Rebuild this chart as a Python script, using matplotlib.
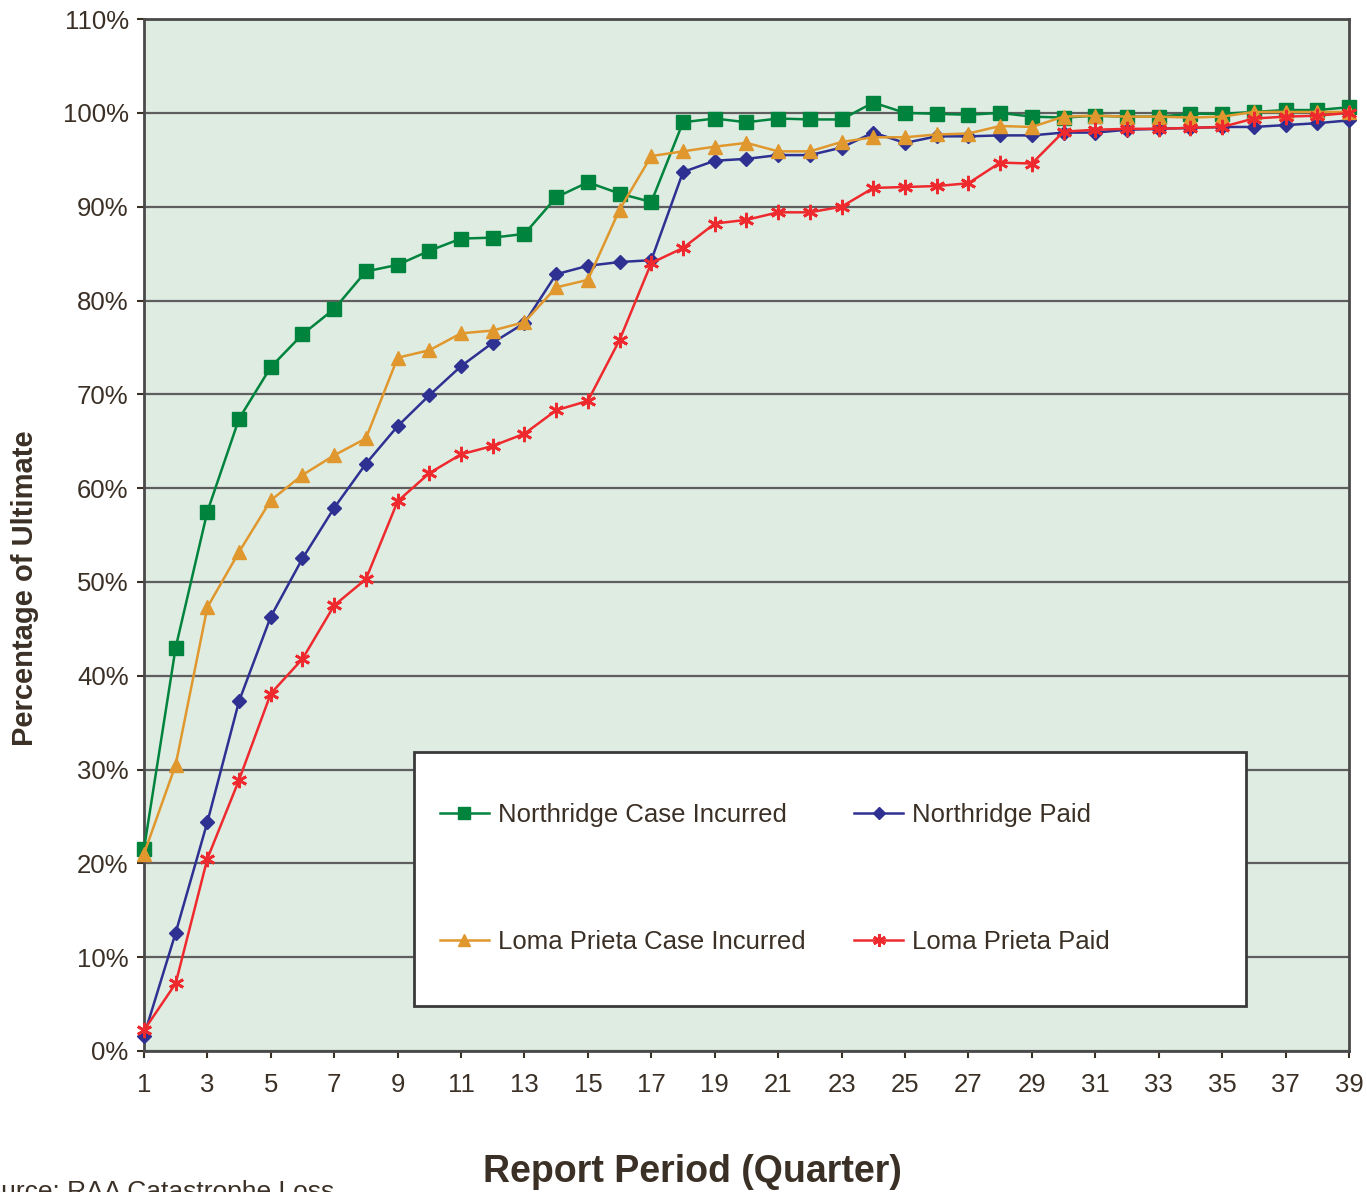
import matplotlib
matplotlib.use("Agg")
import matplotlib.pyplot as plt
from matplotlib.patches import Rectangle

plt.rcParams['font.family'] = ['Liberation Sans', 'DejaVu Sans']

quarters = list(range(1, 40))

northridge_incurred = [21.5, 43.0, 57.5, 67.4, 72.9, 76.4, 79.1, 83.1, 83.8, 85.3,
                       86.6, 86.7, 87.1, 91.0, 92.6, 91.4, 90.5, 99.0, 99.4, 99.0,
                       99.4, 99.3, 99.3, 101.1, 100.0, 99.9, 99.8, 100.0, 99.6, 99.5,
                       99.7, 99.6, 99.6, 99.9, 99.9, 100.1, 100.3, 100.3, 100.6]
northridge_paid = [1.6, 12.6, 24.4, 37.3, 46.3, 52.5, 57.9, 62.6, 66.6, 69.9,
                   73.0, 75.5, 77.6, 82.8, 83.7, 84.1, 84.3, 93.7, 94.9, 95.1,
                   95.5, 95.5, 96.3, 97.9, 96.8, 97.5, 97.5, 97.6, 97.6, 97.9,
                   97.9, 98.2, 98.3, 98.4, 98.5, 98.5, 98.7, 98.9, 99.2]
loma_incurred = [21.0, 30.5, 47.3, 53.2, 58.7, 61.4, 63.5, 65.3, 73.9, 74.7,
                 76.5, 76.8, 77.7, 81.4, 82.2, 89.7, 95.4, 95.9, 96.4, 96.8,
                 95.9, 95.9, 96.9, 97.4, 97.4, 97.7, 97.8, 98.6, 98.5, 99.6,
                 99.7, 99.6, 99.6, 99.5, 99.6, 100.1, 100.1, 100.1, 100.1]
loma_paid = [2.2, 7.2, 20.5, 28.9, 38.1, 41.8, 47.5, 50.3, 58.6, 61.6,
             63.6, 64.5, 65.8, 68.3, 69.3, 75.8, 84.0, 85.6, 88.2, 88.6,
             89.4, 89.4, 90.0, 92.0, 92.1, 92.2, 92.5, 94.7, 94.6, 98.0,
             98.2, 98.3, 98.3, 98.4, 98.5, 99.4, 99.6, 99.7, 100.0]

text_col = '#3b3026'
fig = plt.figure(figsize=(13.67, 11.92), dpi=100)
ax = fig.add_axes([0.1053, 0.1183, 0.8815, 0.8657])
ax.set_facecolor('#dfece2')

l1, = ax.plot(quarters, northridge_incurred, color='#00843d', lw=1.8, marker='s', ms=10, clip_on=False, zorder=3)
l2, = ax.plot(quarters, northridge_paid, color='#2e3192', lw=1.8, marker='D', ms=7.5, clip_on=False, zorder=3)
l3, = ax.plot(quarters, loma_incurred, color='#e0982e', lw=1.8, marker='^', ms=10, clip_on=False, zorder=3)
l4, = ax.plot(quarters, loma_paid, color='#ee2a2e', lw=1.8, marker=(6, 2, 0), ms=11, mew=2, clip_on=False, zorder=3)

ax.set_xlim(1, 39)
ax.set_ylim(0, 110)
ax.set_xticks(range(1, 40, 2))
ax.set_yticks(range(0, 111, 10))
ax.set_yticklabels([f"{v}%" for v in range(0, 111, 10)])
ax.yaxis.grid(True, color='#5e5e5e', lw=1.6)
ax.set_axisbelow(True)
for s in ax.spines.values():
    s.set_color('#4a4a4a')
    s.set_linewidth(2)
ax.tick_params(axis='both', labelsize=18.5, colors=text_col, length=5, width=1.5, pad=6)
ax.tick_params(axis='x', pad=11)
for t in ax.get_xticklines() + ax.get_yticklines():
    t.set_color('#4a4a4a')

# legend box
box = Rectangle((0.224, 0.0436), 0.6905, 0.2461, transform=ax.transAxes,
                facecolor='white', edgecolor='#3a3a3a', lw=2, zorder=5)
ax.add_patch(box)
leg = ax.legend([l1, l3, l2, l4],
                ['Northridge Case Incurred', 'Loma Prieta Case Incurred',
                 'Northridge Paid', 'Loma Prieta Paid'],
                ncol=2, loc='center left', bbox_to_anchor=(0.2456, 0.1672),
                frameon=False, fontsize=18.5, labelspacing=4.0, handlelength=1.9,
                handletextpad=0.35, columnspacing=1.9, borderpad=0, borderaxespad=0,
                markerscale=0.85)
leg.set_zorder(6)
for t in leg.get_texts():
    t.set_color(text_col)

fig.text(25 / 1367, 1 - 588 / 1192, 'Percentage of Ultimate', rotation=90,
         ha='center', va='center', fontsize=21, fontweight='bold', color=text_col)
fig.text(692 / 1367, 1 - 1172 / 1192, 'Report Period (Quarter)',
         ha='center', va='center', fontsize=27, fontweight='bold', color=text_col)
fig.text(-31 / 1367, 1 - 1180 / 1192, 'Source: RAA Catastrophe Loss',
         ha='left', va='top', fontsize=19, color=text_col)

fig.savefig('out.png', dpi=100)
